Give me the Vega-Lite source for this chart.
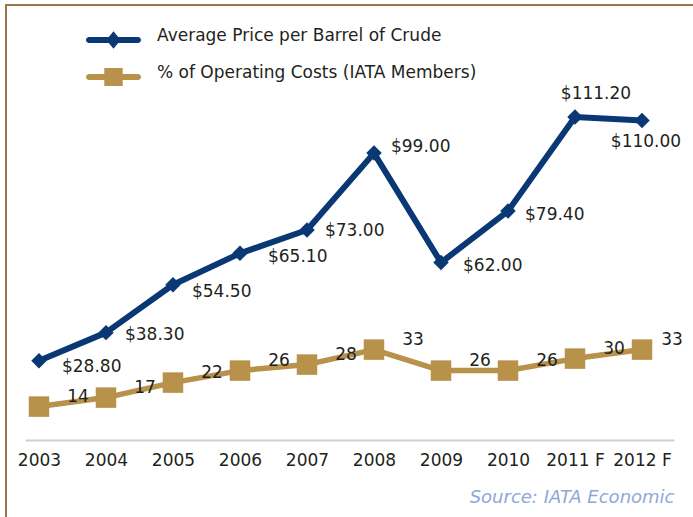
{
  "$schema": "https://vega.github.io/schema/vega-lite/v6.json",
  "width": 691,
  "height": 516,
  "autosize": "none",
  "padding": {"left": 6, "top": 5, "right": -4, "bottom": -4},
  "background": "white",
  "config": {
    "view": {"stroke": "#97774a", "strokeWidth": 2},
    "font": "DejaVu Sans"
  },
  "data": {
    "values": [
      {"year": "2003", "price": 28.8, "pct": 14},
      {"year": "2004", "price": 38.3, "pct": 17},
      {"year": "2005", "price": 54.5, "pct": 22},
      {"year": "2006", "price": 65.1, "pct": 26},
      {"year": "2007", "price": 73.0, "pct": 28},
      {"year": "2008", "price": 99.0, "pct": 33},
      {"year": "2009", "price": 62.0, "pct": 26},
      {"year": "2010", "price": 79.4, "pct": 26},
      {"year": "2011 F", "price": 111.2, "pct": 30},
      {"year": "2012 F", "price": 110.0, "pct": 33}
    ]
  },
  "encoding": {
    "x": {
      "field": "year",
      "type": "ordinal",
      "sort": null,
      "scale": {"type": "point", "range": [19, 668], "padding": 0.343, "align": 0.304},
      "axis": {
        "title": "Source: IATA Economic",
        "titleAnchor": "end",
        "titleAlign": "right",
        "titleFont": "DejaVu Sans",
        "titleFontSize": 18,
        "titleFontStyle": "italic",
        "titleFontWeight": "normal",
        "titleColor": "#8fa7d8",
        "titlePadding": 20,
        "labelAngle": 0,
        "labelFont": "DejaVu Sans",
        "labelFontSize": 17,
        "labelColor": "#231f20",
        "labelPadding": 12,
        "ticks": false,
        "grid": false,
        "domainColor": "#d0d0d0",
        "domainWidth": 2,
        "offset": -81
      }
    }
  },
  "layer": [
    {
      "encoding": {
        "y": {
          "field": "price",
          "type": "quantitative",
          "scale": {"domain": [0, 120], "range": [440.9, 86.0], "nice": false, "zero": false},
          "axis": null
        }
      },
      "layer": [
        {
          "mark": {"type": "line", "strokeWidth": 6, "strokeJoin": "round"},
          "encoding": {
            "color": {
              "datum": "Average Price per Barrel of Crude",
              "scale": {
                "domain": ["Average Price per Barrel of Crude", "% of Operating Costs (IATA Members)"],
                "range": ["#0a3875", "#b8914a"]
              },
              "legend": {
                "title": null,
                "orient": "none",
                "legendX": 80,
                "legendY": 7.5,
                "padding": 0,
                "symbolSize": 3025,
                "rowPadding": -16,
                "labelOffset": 16,
                "labelFont": "DejaVu Sans",
                "labelFontSize": 17,
                "labelColor": "#231f20",
                "labelLimit": 500,
                "encode": {
                  "symbols": {
                    "update": {
                      "shape": {"signal": "datum.value === 'Average Price per Barrel of Crude' ? 'M-0.891,-0.109L0.891,-0.109A0.109,0.109 0 0 1 0.891,0.109L-0.891,0.109A0.109,0.109 0 0 1 -0.891,-0.109ZM0,-0.315L0.26,0L0,0.315L-0.26,0Z' : 'M-0.891,-0.109L0.891,-0.109A0.109,0.109 0 0 1 0.891,0.109L-0.891,0.109A0.109,0.109 0 0 1 -0.891,-0.109ZM-0.335,-0.327L0.335,-0.327L0.335,0.327L-0.335,0.327Z'"},
                      "fill": {"signal": "datum.value === 'Average Price per Barrel of Crude' ? '#0a3875' : '#b8914a'"},
                      "stroke": {"value": "transparent"},
                      "strokeWidth": {"value": 0},
                      "opacity": {"value": 1},
                      "size": {"value": 3025}
                    }
                  },
                  "labels": {
                    "update": {"dy": {"value": -4.5}}
                  }
                }
              }
            }
          }
        },
        {
          "mark": {"type": "point", "shape": "diamond", "filled": true, "size": 240, "color": "#0a3875", "opacity": 1}
        },
        {
          "transform": [{"filter": {"field": "year", "equal": "2003"}}],
          "mark": {"type": "text", "align": "left", "baseline": "middle", "dx": 23, "dy": 6, "fontSize": 17, "font": "DejaVu Sans", "color": "#231f20"},
          "encoding": {"text": {"field": "price", "type": "quantitative", "format": "$.2f"}}
        },
        {
          "transform": [{"filter": {"field": "year", "equal": "2004"}}],
          "mark": {"type": "text", "align": "left", "baseline": "middle", "dx": 19, "dy": 2, "fontSize": 17, "font": "DejaVu Sans", "color": "#231f20"},
          "encoding": {"text": {"field": "price", "type": "quantitative", "format": "$.2f"}}
        },
        {
          "transform": [{"filter": {"field": "year", "equal": "2005"}}],
          "mark": {"type": "text", "align": "left", "baseline": "middle", "dx": 19, "dy": 7, "fontSize": 17, "font": "DejaVu Sans", "color": "#231f20"},
          "encoding": {"text": {"field": "price", "type": "quantitative", "format": "$.2f"}}
        },
        {
          "transform": [{"filter": {"field": "year", "equal": "2006"}}],
          "mark": {"type": "text", "align": "left", "baseline": "middle", "dx": 28, "dy": 4, "fontSize": 17, "font": "DejaVu Sans", "color": "#231f20"},
          "encoding": {"text": {"field": "price", "type": "quantitative", "format": "$.2f"}}
        },
        {
          "transform": [{"filter": {"field": "year", "equal": "2007"}}],
          "mark": {"type": "text", "align": "left", "baseline": "middle", "dx": 18, "dy": 1, "fontSize": 17, "font": "DejaVu Sans", "color": "#231f20"},
          "encoding": {"text": {"field": "price", "type": "quantitative", "format": "$.2f"}}
        },
        {
          "transform": [{"filter": {"field": "year", "equal": "2008"}}],
          "mark": {"type": "text", "align": "left", "baseline": "middle", "dx": 17, "dy": -6, "fontSize": 17, "font": "DejaVu Sans", "color": "#231f20"},
          "encoding": {"text": {"field": "price", "type": "quantitative", "format": "$.2f"}}
        },
        {
          "transform": [{"filter": {"field": "year", "equal": "2009"}}],
          "mark": {"type": "text", "align": "left", "baseline": "middle", "dx": 22, "dy": 3.5, "fontSize": 17, "font": "DejaVu Sans", "color": "#231f20"},
          "encoding": {"text": {"field": "price", "type": "quantitative", "format": "$.2f"}}
        },
        {
          "transform": [{"filter": {"field": "year", "equal": "2010"}}],
          "mark": {"type": "text", "align": "left", "baseline": "middle", "dx": 17, "dy": 4, "fontSize": 17, "font": "DejaVu Sans", "color": "#231f20"},
          "encoding": {"text": {"field": "price", "type": "quantitative", "format": "$.2f"}}
        },
        {
          "transform": [{"filter": {"field": "year", "equal": "2011 F"}}],
          "mark": {"type": "text", "align": "center", "baseline": "middle", "dx": 21, "dy": -23, "fontSize": 17, "font": "DejaVu Sans", "color": "#231f20"},
          "encoding": {"text": {"field": "price", "type": "quantitative", "format": "$.2f"}}
        },
        {
          "transform": [{"filter": {"field": "year", "equal": "2012 F"}}],
          "mark": {"type": "text", "align": "center", "baseline": "middle", "dx": 4, "dy": 21, "fontSize": 17, "font": "DejaVu Sans", "color": "#231f20"},
          "encoding": {"text": {"field": "price", "type": "quantitative", "format": "$.2f"}}
        }
      ]
    },
    {
      "encoding": {
        "y": {
          "field": "pct",
          "type": "quantitative",
          "scale": {"domain": [0, 120], "range": [443.6, 83.6], "nice": false, "zero": false},
          "axis": null
        }
      },
      "layer": [
        {
          "mark": {"type": "line", "strokeWidth": 5.5, "strokeJoin": "round"},
          "encoding": {
            "color": {"datum": "% of Operating Costs (IATA Members)"}
          }
        },
        {
          "mark": {"type": "point", "shape": "square", "filled": true, "size": 420, "color": "#b8914a", "opacity": 1}
        },
        {
          "transform": [{"filter": {"field": "year", "oneOf": ["2003", "2004", "2005", "2006", "2007", "2008", "2009", "2010", "2011 F"]}}],
          "mark": {"type": "text", "align": "center", "baseline": "middle", "dx": 39, "dy": -10, "fontSize": 17, "font": "DejaVu Sans", "color": "#231f20"},
          "encoding": {"text": {"field": "pct", "type": "quantitative"}}
        },
        {
          "transform": [{"filter": {"field": "year", "equal": "2012 F"}}],
          "mark": {"type": "text", "align": "center", "baseline": "middle", "dx": 30, "dy": -10, "fontSize": 17, "font": "DejaVu Sans", "color": "#231f20"},
          "encoding": {"text": {"field": "pct", "type": "quantitative"}}
        }
      ]
    }
  ],
  "resolve": {"scale": {"y": "independent"}}
}
